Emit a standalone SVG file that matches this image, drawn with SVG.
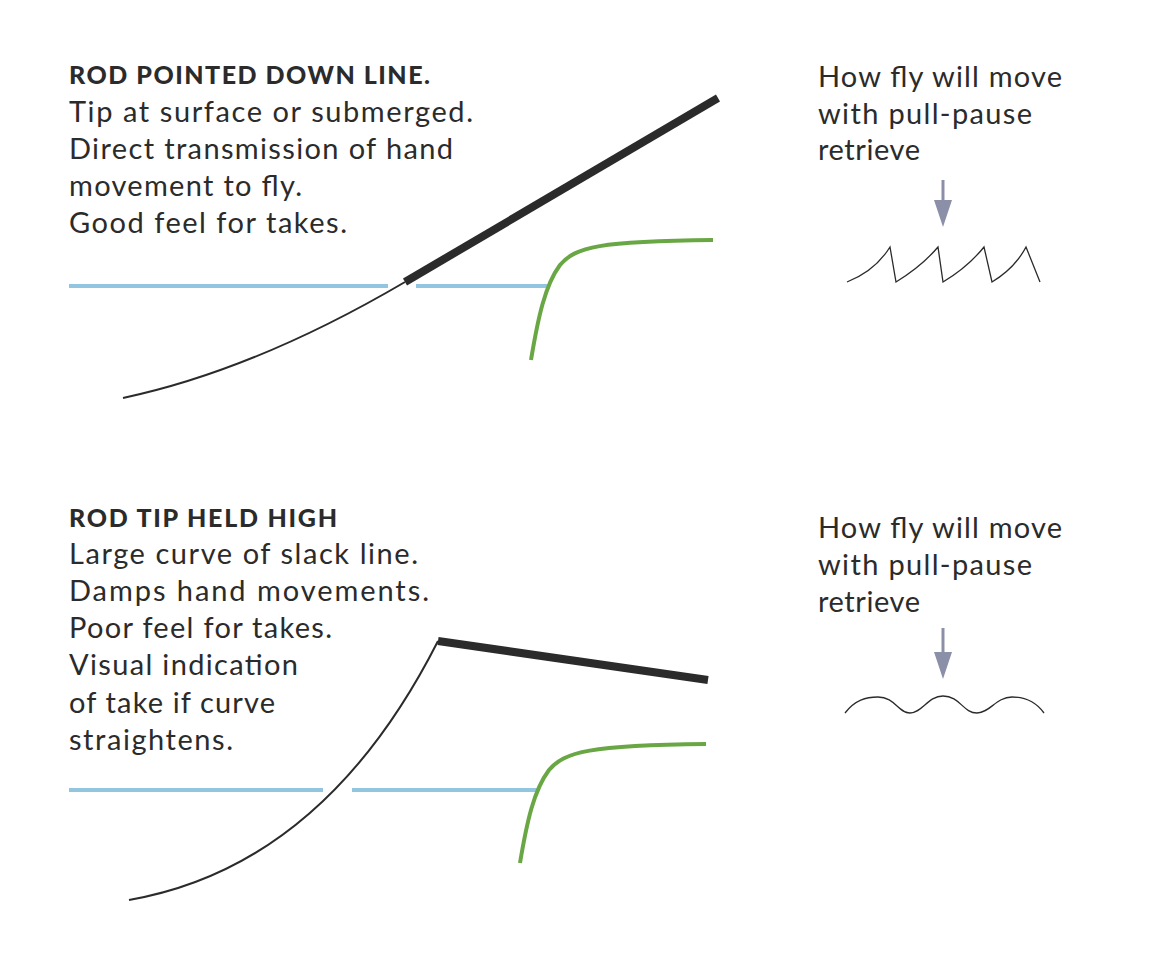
<svg xmlns="http://www.w3.org/2000/svg" width="1162" height="968" viewBox="0 0 1162 968">
<style>
.t{font-family:Lato,"Liberation Sans",sans-serif;font-size:29px;fill:#2b2b2b}
.b{font-weight:900;font-size:25px}
.water{stroke:#92c5e0;stroke-width:4;fill:none}
.rod{stroke:#2b2b2b;stroke-width:8;fill:none}
.line{stroke:#2b2b2b;stroke-width:2;fill:none}
.green{stroke:#69a745;stroke-width:4;fill:none}
.move{stroke:#2b2b2b;stroke-width:1.3;fill:none}
.arr{stroke:#8b90a8;stroke-width:3;fill:none}
.head{fill:#8b90a8}
</style>
<rect width="1162" height="968" fill="#fff"/>
<g id="top-text">
<text class="t b" x="69" y="84" textLength="361" lengthAdjust="spacing">ROD POINTED DOWN LINE.</text>
<text class="t" x="69" y="122" textLength="404" lengthAdjust="spacing">Tip at surface or submerged.</text>
<text class="t" x="69" y="159" textLength="384" lengthAdjust="spacing">Direct transmission of hand</text>
<text class="t" x="69" y="196" textLength="233" lengthAdjust="spacing">movement to fly.</text>
<text class="t" x="69" y="233" textLength="278" lengthAdjust="spacing">Good feel for takes.</text>
</g>
<g id="top-scene">
<line class="water" x1="69" y1="286" x2="388" y2="286"/>
<line class="water" x1="416" y1="286" x2="548" y2="286"/>
<path class="line" d="M123,398 Q255,370 405,282"/>
<line class="rod" x1="405" y1="282" x2="718" y2="98"/>
<path class="green" d="M531,360 C538,318 545,285 560,265 C575,247 600,241 713,240"/>
</g>
<g id="top-right">
<text class="t" x="818" y="87" textLength="244" lengthAdjust="spacing">How fly will move</text>
<text class="t" x="818" y="124" textLength="214" lengthAdjust="spacing">with pull-pause</text>
<text class="t" x="818" y="160" textLength="102" lengthAdjust="spacing">retrieve</text>
<line class="arr" x1="943" y1="180" x2="943" y2="206"/>
<polygon class="head" points="934,200 952,200 943,227"/>
<path class="move" d="M847,282 Q875,271 890,247 L896,282 Q922,266 938,247 L943,282 Q968,267 984,247 L992,282 Q1015,268 1026,247 L1040,282"/>
</g>
<g id="bottom-text">
<text class="t b" x="69" y="527" textLength="268" lengthAdjust="spacing">ROD TIP HELD HIGH</text>
<text class="t" x="69" y="564" textLength="349" lengthAdjust="spacing">Large curve of slack line.</text>
<text class="t" x="69" y="601" textLength="360" lengthAdjust="spacing">Damps hand movements.</text>
<text class="t" x="69" y="638" textLength="263" lengthAdjust="spacing">Poor feel for takes.</text>
<text class="t" x="69" y="675" textLength="229" lengthAdjust="spacing">Visual indication</text>
<text class="t" x="69" y="713" textLength="206" lengthAdjust="spacing">of take if curve</text>
<text class="t" x="69" y="750" textLength="164" lengthAdjust="spacing">straightens.</text>
</g>
<g id="bottom-scene">
<line class="water" x1="69" y1="790" x2="323" y2="790"/>
<line class="water" x1="352" y1="790" x2="538" y2="790"/>
<path class="line" d="M129,900 Q324,866 438,641"/>
<line class="rod" x1="438" y1="641" x2="708" y2="680"/>
<path class="green" d="M520,863 C527,821 534,790 549,770 C564,752 590,745 706,744"/>
</g>
<g id="bottom-right">
<text class="t" x="818" y="538" textLength="244" lengthAdjust="spacing">How fly will move</text>
<text class="t" x="818" y="575" textLength="214" lengthAdjust="spacing">with pull-pause</text>
<text class="t" x="818" y="612" textLength="102" lengthAdjust="spacing">retrieve</text>
<line class="arr" x1="943" y1="628" x2="943" y2="656"/>
<polygon class="head" points="934,652 952,652 943,679"/>
<path class="move" d="M845,713 C855,700 866,697 878,697 C895,697 898,713 910,713 C922,713 928,696 943,696 C960,696 963,713 977,713 C990,713 996,697 1012,697 C1025,697 1036,702 1044,713"/>
</g>
</svg>
